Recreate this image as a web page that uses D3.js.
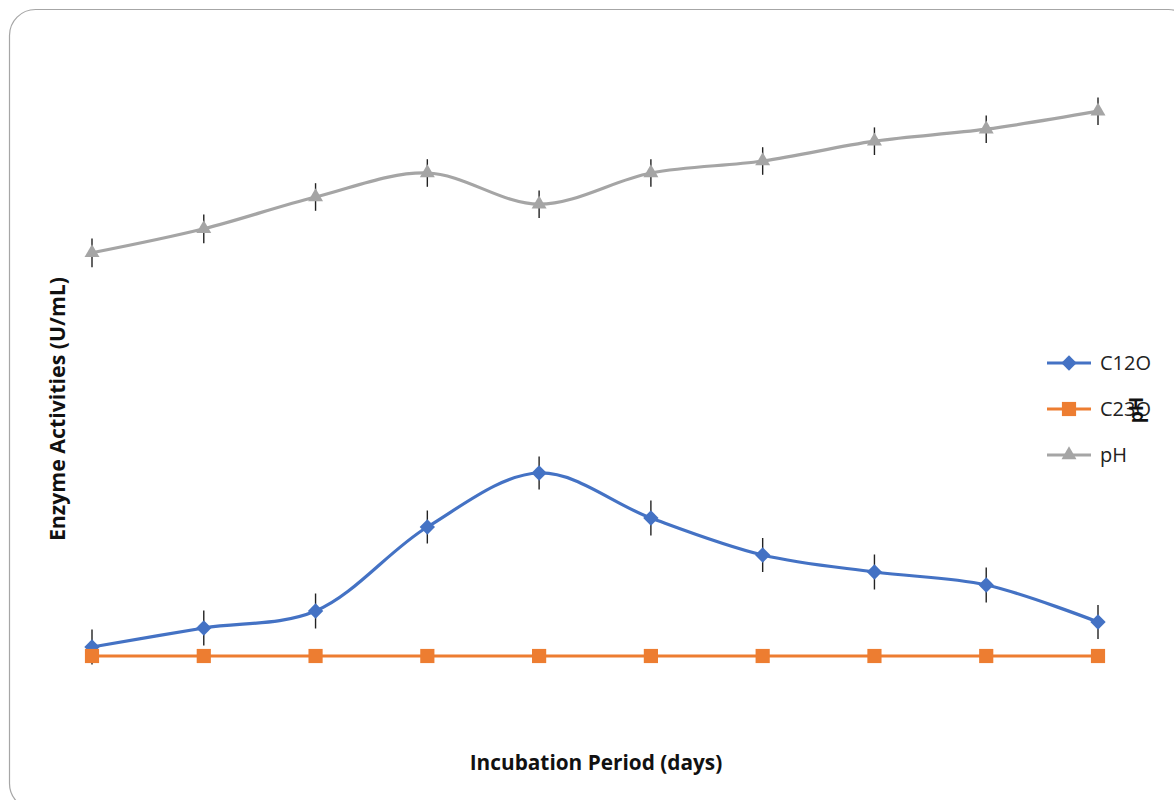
<!DOCTYPE html>
<html>
<head>
<meta charset="utf-8">
<script src="https://cdn.jsdelivr.net/npm/d3@7/dist/d3.min.js"></script>
<style>
  html, body { margin: 0; padding: 0; background: #fff; }
  svg { display: block; }
  text { font-family: "Open Sans", "Noto Sans", sans-serif; }
</style>
</head>
<body>
<svg id="chart" width="1174" height="800"></svg>
<script>
// Incubation days
const days = [1, 2, 3, 4, 5, 6, 7, 8, 9, 10];
// Catechol 1,2-dioxygenase activity (U/mL) and its error
const c12o = [0.18, 0.56, 0.90, 2.58, 3.66, 2.76, 2.02, 1.68, 1.42, 0.68];
const c12oErr = [0.35, 0.35, 0.35, 0.33, 0.33, 0.35, 0.34, 0.35, 0.35, 0.34];
// Catechol 2,3-dioxygenase activity (U/mL)
const c23o = [0, 0, 0, 0, 0, 0, 0, 0, 0, 0];
// pH of the culture medium and its error
const ph = [6.72, 7.12, 7.65, 8.05, 7.53, 8.05, 8.25, 8.58, 8.78, 9.08];
const phErr = [0.24, 0.24, 0.23, 0.23, 0.23, 0.23, 0.23, 0.23, 0.23, 0.23];
// Legend entries
const seriesNames = ["C12O", "C23O", "pH"];

const svg = d3.select("#chart");
const colors = { C12O: "#4472C4", C23O: "#ED7D31", pH: "#A5A5A5" };

// Chart frame
svg.append("rect")
  .attr("x", 9.5).attr("y", 9.5)
  .attr("width", 1185).attr("height", 800)
  .attr("rx", 26).attr("ry", 26)
  .attr("fill", "#fff").attr("stroke", "#a6a6a6").attr("stroke-width", 1.2);

const x = d3.scalePoint().domain(days).range([92, 1098]);
const yEnz = d3.scaleLinear().domain([0, 12]).range([656, 56]);
const yPh = d3.scaleLinear().domain([0, 10]).range([656, 56]);

const smooth = d3.curveCatmullRom.alpha(0.5);

function drawSeries(values, errs, yScale, color, symbol, size) {
  const g = svg.append("g");
  const pts = days.map((d, i) => ({ d, v: values[i], e: errs ? errs[i] : 0 }));
  g.append("path")
    .datum(pts)
    .attr("fill", "none")
    .attr("stroke", color)
    .attr("stroke-width", 3.2)
    .attr("stroke-linejoin", "round")
    .attr("d", d3.line().x(p => x(p.d)).y(p => yScale(p.v)).curve(smooth));
  if (errs) {
    g.selectAll("line.err").data(pts).join("line")
      .attr("class", "err")
      .attr("x1", p => x(p.d)).attr("x2", p => x(p.d))
      .attr("y1", p => yScale(p.v - p.e)).attr("y2", p => yScale(p.v + p.e))
      .attr("stroke", "#222").attr("stroke-width", 1.4);
  }
  g.selectAll("path.mk").data(pts).join("path")
    .attr("class", "mk")
    .attr("transform", p => `translate(${x(p.d)},${yScale(p.v)})`)
    .attr("d", d3.symbol().type(symbol).size(size))
    .attr("fill", color);
}

drawSeries(c12o, c12oErr, yEnz, colors.C12O, d3.symbolDiamond2, 150);
drawSeries(c23o, null, yEnz, colors.C23O, d3.symbolSquare2, 256);
drawSeries(ph, phErr, yPh, colors.pH, d3.symbolTriangle2, 160);

// Axis titles
svg.append("text")
  .attr("x", 596).attr("y", 770)
  .attr("text-anchor", "middle")
  .attr("font-size", 20.8).attr("font-weight", "bold").attr("fill", "#111")
  .text("Incubation Period (days)");

svg.append("text")
  .attr("transform", "translate(65,409) rotate(-90)")
  .attr("text-anchor", "middle")
  .attr("font-size", 21.3).attr("font-weight", "bold").attr("fill", "#111")
  .text("Enzyme Activities (U/mL)");

// Legend
const legend = svg.append("g");
const symbols = [d3.symbolDiamond2, d3.symbolSquare2, d3.symbolTriangle2];
const symSizes = [150, 256, 160];
seriesNames.forEach((name, i) => {
  const yy = 363 + i * 46;
  legend.append("line")
    .attr("x1", 1047).attr("x2", 1091).attr("y1", yy).attr("y2", yy)
    .attr("stroke", colors[name]).attr("stroke-width", 3.2);
  legend.append("path")
    .attr("transform", `translate(1069,${yy})`)
    .attr("d", d3.symbol().type(symbols[i]).size(symSizes[i]))
    .attr("fill", colors[name]);
  legend.append("text")
    .attr("x", 1100).attr("y", yy + 7)
    .attr("font-size", 20).attr("fill", "#222")
    .text(name);
});

// Secondary axis title (pH)
svg.append("text")
  .attr("transform", "translate(1143,410) rotate(-90)")
  .attr("text-anchor", "middle")
  .attr("font-size", 19).attr("font-weight", "bold").attr("fill", "#111")
  .text("pH");
</script>
</body>
</html>
